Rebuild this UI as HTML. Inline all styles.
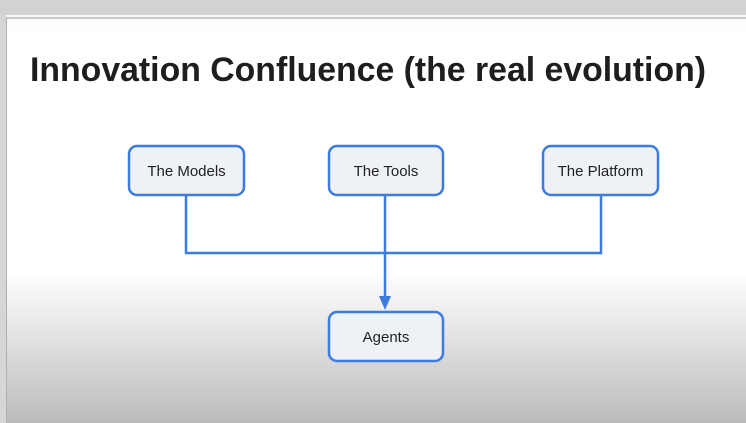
<!DOCTYPE html>
<html><head><meta charset="utf-8"><style>
html,body{margin:0;padding:0;width:746px;height:423px;overflow:hidden}
body{background:linear-gradient(to bottom,#fff 0,#fff 280px,#e0e0e0 360px,#bdbdbd 423px)}
</style></head><body>
<svg width="746" height="423" viewBox="0 0 746 423" xmlns="http://www.w3.org/2000/svg" style="position:absolute;left:0;top:0">
<defs>
<linearGradient id="bg" x1="0" y1="0" x2="0" y2="1">
<stop offset="0" stop-color="#f4f4f4"/><stop offset="0.07" stop-color="#fff"/>
<stop offset="0.64" stop-color="#fff"/><stop offset="0.82" stop-color="#dedede"/><stop offset="1" stop-color="#bbbbbb"/>
</linearGradient>
</defs>
<rect x="0" y="0" width="746" height="423" fill="url(#bg)"/>
<rect x="0" y="0" width="746" height="15" fill="#d2d2d2"/>
<rect x="0" y="15" width="6" height="408" fill="#d6d6d6"/>
<line x1="6" y1="18" x2="746" y2="18" stroke="#9a9a9a" stroke-width="1"/>
<line x1="6.5" y1="18" x2="6.5" y2="423" stroke="#b0b0b0" stroke-width="1"/>
<text x="30" y="81" font-family="Liberation Sans, sans-serif" font-size="34" font-weight="bold" fill="#1e1e1e" textLength="676" lengthAdjust="spacingAndGlyphs">Innovation Confluence (the real evolution)</text>
<g stroke="#3c7be0" stroke-width="2.5" fill="none">
<polyline points="186,195 186,253 601,253 601,195"/>
<line x1="385" y1="195" x2="385" y2="298"/>
</g>
<polygon points="379,296 391,296 385,310" fill="#3c7be0"/>
<g stroke="#3c7be0" stroke-width="2.5" fill="#eef1f6">
<rect x="129" y="146" width="115" height="49" rx="8"/>
<rect x="329" y="146" width="114" height="49" rx="8"/>
<rect x="543" y="146" width="115" height="49" rx="8"/>
<rect x="329" y="312" width="114" height="49" rx="8"/>
</g>
<g font-family="Liberation Sans, sans-serif" font-size="15" fill="#222" text-anchor="middle">
<text x="186.5" y="176">The Models</text>
<text x="386" y="176">The Tools</text>
<text x="600.5" y="176">The Platform</text>
<text x="386" y="342">Agents</text>
</g>
</svg>
</body></html>
